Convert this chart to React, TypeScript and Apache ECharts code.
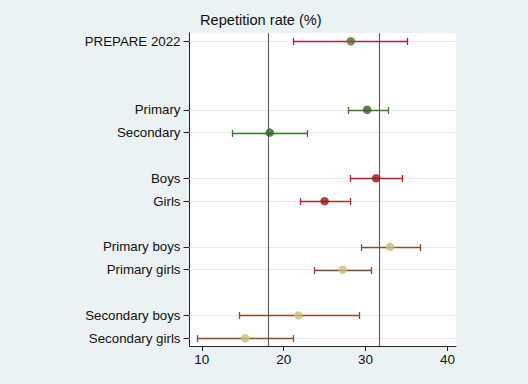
import React, { useEffect, useRef } from "react";
import * as echarts from "echarts";

const categories = [
  "PREPARE 2022", "", "", "Primary", "Secondary", "", "Boys", "Girls", "",
  "Primary boys", "Primary girls", "", "Secondary boys", "Secondary girls",
];
const estimates = [28.2, null, null, 30.2, 18.3, null, 31.3, 25.0, null, 33.0, 27.2, null, 21.8, 15.3];
const lowers = [21.1, null, null, 27.8, 13.7, null, 28.1, 22.0, null, 29.5, 23.75, null, 14.6, 9.4];
const uppers = [35.1, null, null, 32.7, 22.9, null, 34.5, 28.1, null, 36.6, 30.7, null, 29.2, 21.1];
const groups = ["overall", "", "", "level", "level", "", "sex", "sex", "", "lvsex", "lvsex", "", "lvsex", "lvsex"];
const refLines = [18.13, 31.69];
const xTicks = [10, 20, 30, 40];
const title = "Repetition rate (%)";

const barColors: Record<string, string> = {
  overall: "#a1283a",
  level: "#3d7a2e",
  sex: "#c0202a",
  lvsex: "#8e4a2c",
};
const dotColors: Record<string, string> = {
  overall: "#4e7230",
  level: "#2f6422",
  sex: "#961818",
  lvsex: "#d2bb78",
};

export default function App() {
  const ref = useRef<HTMLDivElement>(null);
  useEffect(() => {
    if (!ref.current) return;
    const chart = echarts.init(ref.current, null, { renderer: "svg" });
    const rowIdx = categories.map((c, i) => i).filter((i) => categories[i] !== "");
    const font = "Liberation Sans, Arial, sans-serif";

    const barData = rowIdx.map((i) => [lowers[i], uppers[i], i]);
    const barCols = rowIdx.map((i) => barColors[groups[i]]);
    const dotData = rowIdx.map((i) => ({
      value: [estimates[i], i],
      itemStyle: { color: dotColors[groups[i]] },
    }));

    chart.setOption({
      animation: false,
      backgroundColor: "#eaf2f3",
      graphic: [
        {
          type: "text",
          left: 200,
          top: 12,
          style: { text: title, fontSize: 14.6, fill: "#111", fontFamily: font },
        },
      ],
      grid: { left: 189.5, right: 72, top: 33, bottom: 38, show: true, backgroundColor: "#ffffff", borderWidth: 0 },
      xAxis: {
        type: "value",
        min: 8.5,
        max: 41.05,
        axisLine: { show: true, onZero: false, lineStyle: { color: "#222", width: 1 } },
        axisTick: { show: true, length: 5, customValues: xTicks, lineStyle: { color: "#222" } },
        axisLabel: { customValues: xTicks, color: "#111", fontSize: 13.5, fontFamily: font, margin: 6 },
        splitLine: { show: false },
      },
      yAxis: {
        type: "value",
        inverse: true,
        min: -0.36,
        max: 13.34,
        axisLine: { show: true, onZero: false, lineStyle: { color: "#222", width: 1 } },
        axisTick: { show: true, length: 6, customValues: rowIdx, lineStyle: { color: "#222" } },
        axisLabel: {
          customValues: rowIdx,
          formatter: (v: number) => categories[Math.round(v)] ?? "",
          color: "#111",
          fontSize: 13.3,
          fontFamily: font,
          margin: 9,
        },
        splitLine: { show: false },
      },
      series: [
        {
          type: "line",
          data: [],
          silent: true,
          z: 1,
          markLine: {
            z: 1,
            symbol: "none",
            silent: true,
            label: { show: false },
            lineStyle: { color: "#e6eef0", width: 1, type: "solid" },
            data: rowIdx.map((i) => ({ yAxis: i })),
          },
        },
        {
          type: "line",
          data: [],
          silent: true,
          z: 2,
          markLine: {
            z: 2,
            symbol: "none",
            silent: true,
            label: { show: false },
            lineStyle: { color: "#5c5c5c", width: 1.1, type: "solid" },
            data: refLines.map((x) => ({ xAxis: x })),
          },
        },
        {
          type: "custom",
          data: barData,
          encode: { x: [0, 1], y: 2 },
          silent: true,
          z: 8,
          renderItem: (params: any, api: any) => {
            const lo = api.coord([api.value(0), api.value(2)]);
            const hi = api.coord([api.value(1), api.value(2)]);
            const color = barCols[params.dataIndex];
            const y = Math.round(lo[1]) + 0.5;
            const x1 = Math.round(lo[0]) + 0.5;
            const x2 = Math.round(hi[0]) + 0.5;
            const h = 3.5;
            const st = { stroke: color, lineWidth: 1.3, fill: null, opacity: 1 };
            return {
              type: "group",
              children: [
                { type: "line", shape: { x1, y1: y, x2, y2: y }, style: st },
                { type: "line", shape: { x1, y1: y - h, x2: x1, y2: y + h }, style: st },
                { type: "line", shape: { x1: x2, y1: y - h, x2, y2: y + h }, style: st },
              ],
            };
          },
        },
        {
          type: "scatter",
          data: dotData,
          symbol: "circle",
          symbolSize: 8.5,
          z: 9,
        },
      ],
    });
    return () => chart.dispose();
  }, []);
  return <div ref={ref} style={{ width: 528, height: 384, position: "absolute", left: 0, top: 0 }} />;
}
